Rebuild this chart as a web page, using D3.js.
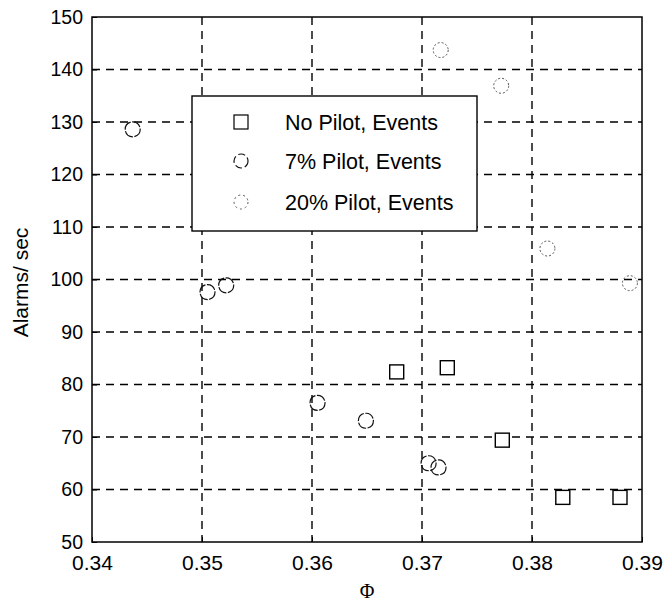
<!DOCTYPE html>
<html>
<head>
<meta charset="utf-8">
<script src="https://cdn.jsdelivr.net/npm/d3@7"></script>
<style>
  body { margin: 0; background: #fff; }
  text { font-family: "Liberation Sans", Arial, sans-serif; fill: #000; }
</style>
</head>
<body>
<svg id="main-svg" width="665" height="603"></svg>
<script>
// data
let xTicks = [0.34, 0.35, 0.36, 0.37, 0.38, 0.39];
let yTicks = [50, 60, 70, 80, 90, 100, 110, 120, 130, 140, 150];

let noPilotPhi = [0.3677, 0.3723, 0.3773, 0.3828, 0.3880];
let noPilotAlarms = [82.4, 83.2, 69.4, 58.5, 58.5];

let pilot7Phi = [0.3437, 0.3505, 0.3522, 0.3605, 0.3649, 0.3706, 0.3715];
let pilot7Alarms = [128.6, 97.6, 98.9, 76.5, 73.1, 65.0, 64.2];

let pilot20Phi = [0.3717, 0.3772, 0.3814, 0.3889];
let pilot20Alarms = [143.7, 136.9, 105.9, 99.3];

let legendLabels = ["No Pilot, Events", "7% Pilot, Events", "20% Pilot, Events"];

let svg = d3.select("#main-svg");
let margin = { left: 92, top: 17, right: 23, bottom: 61 };
let width = 665 - margin.left - margin.right;
let height = 603 - margin.top - margin.bottom;

let g = svg.append("g").attr("transform", "translate(" + margin.left + "," + margin.top + ")");

let x = d3.scaleLinear().domain([0.34, 0.39]).range([0, width]);
let y = d3.scaleLinear().domain([50, 150]).range([height, 0]);

// grid
g.append("g").selectAll("line")
  .data(xTicks.slice(1, -1))
  .enter().append("line")
  .attr("x1", d => x(d)).attr("x2", d => x(d))
  .attr("y1", 0).attr("y2", height)
  .attr("stroke", "#000").attr("stroke-width", 1.4)
  .attr("stroke-dasharray", "8,6");

g.append("g").selectAll("line")
  .data(yTicks.slice(1, -1))
  .enter().append("line")
  .attr("x1", 0).attr("x2", width)
  .attr("y1", d => y(d)).attr("y2", d => y(d))
  .attr("stroke", "#000").attr("stroke-width", 1.4)
  .attr("stroke-dasharray", "8,6");

// axes
let xAxis = d3.axisBottom(x).tickValues(xTicks).tickSize(-5).tickFormat(d3.format(".2f"));
let yAxis = d3.axisLeft(y).tickValues(yTicks).tickSize(-5).tickFormat(d3.format("d"));

let gx = g.append("g").attr("transform", "translate(0," + height + ")").call(xAxis);
gx.select(".domain").remove();
gx.selectAll("text").attr("font-size", "21px").attr("font-family", "Liberation Sans, Arial, sans-serif").attr("dy", "0.95em").attr("y", 8);

let gy = g.append("g").call(yAxis);
gy.select(".domain").remove();
gy.selectAll("text").attr("font-size", "19.5px").attr("font-family", "Liberation Sans, Arial, sans-serif").attr("x", -9);

// frame
g.append("rect")
  .attr("width", width).attr("height", height)
  .attr("fill", "none").attr("stroke", "#000").attr("stroke-width", 1.5);

// markers
let sq = 14;
g.append("g").selectAll("rect")
  .data(d3.range(noPilotPhi.length))
  .enter().append("rect")
  .attr("x", i => x(noPilotPhi[i]) - sq / 2)
  .attr("y", i => y(noPilotAlarms[i]) - sq / 2)
  .attr("width", sq).attr("height", sq)
  .attr("fill", "#fff").attr("stroke", "#000").attr("stroke-width", 1.4);

g.append("g").selectAll("circle")
  .data(d3.range(pilot7Phi.length))
  .enter().append("circle")
  .attr("cx", i => x(pilot7Phi[i]))
  .attr("cy", i => y(pilot7Alarms[i]))
  .attr("r", 7.5)
  .attr("fill", "none").attr("stroke", "#111").attr("stroke-width", 1.2)
  .attr("stroke-dasharray", "10,1.5");

g.append("g").selectAll("circle")
  .data(d3.range(pilot20Phi.length))
  .enter().append("circle")
  .attr("cx", i => x(pilot20Phi[i]))
  .attr("cy", i => y(pilot20Alarms[i]))
  .attr("r", 7.5)
  .attr("fill", "none").attr("stroke", "#555").attr("stroke-width", 1)
  .attr("stroke-dasharray", "2,2");

// legend
let legend = svg.append("g").attr("transform", "translate(192,96)");
legend.append("rect")
  .attr("width", 285).attr("height", 135)
  .attr("fill", "#fff").attr("stroke", "#000").attr("stroke-width", 1.4);

let rowY = [26, 65, 106];
legend.append("rect")
  .attr("x", 49 - 7).attr("y", rowY[0] - 7).attr("width", 14).attr("height", 14)
  .attr("fill", "none").attr("stroke", "#000").attr("stroke-width", 1.2);
legend.append("circle")
  .attr("cx", 49).attr("cy", rowY[1]).attr("r", 7)
  .attr("fill", "none").attr("stroke", "#111").attr("stroke-width", 1.2)
  .attr("stroke-dasharray", "7,3");
legend.append("circle")
  .attr("cx", 49).attr("cy", rowY[2]).attr("r", 7)
  .attr("fill", "none").attr("stroke", "#555").attr("stroke-width", 1)
  .attr("stroke-dasharray", "2,3");

legend.selectAll("text.lab")
  .data(legendLabels)
  .enter().append("text")
  .attr("class", "lab")
  .attr("x", 93)
  .attr("y", (d, i) => rowY[i])
  .attr("dy", "0.36em")
  .attr("font-size", "21.5px")
  .text(d => d);

// axis labels
svg.append("text")
  .attr("transform", "translate(28," + (margin.top + height / 2 + 3) + ") rotate(-90)")
  .attr("text-anchor", "middle")
  .attr("font-size", "21px")
  .text("Alarms/ sec");

svg.append("text")
  .attr("x", margin.left + width / 2)
  .attr("y", 598)
  .attr("text-anchor", "middle")
  .attr("font-size", "20px")
  .style("font-family", "Liberation Serif, Times New Roman, serif")
  .text("Φ");
</script>
</body>
</html>
